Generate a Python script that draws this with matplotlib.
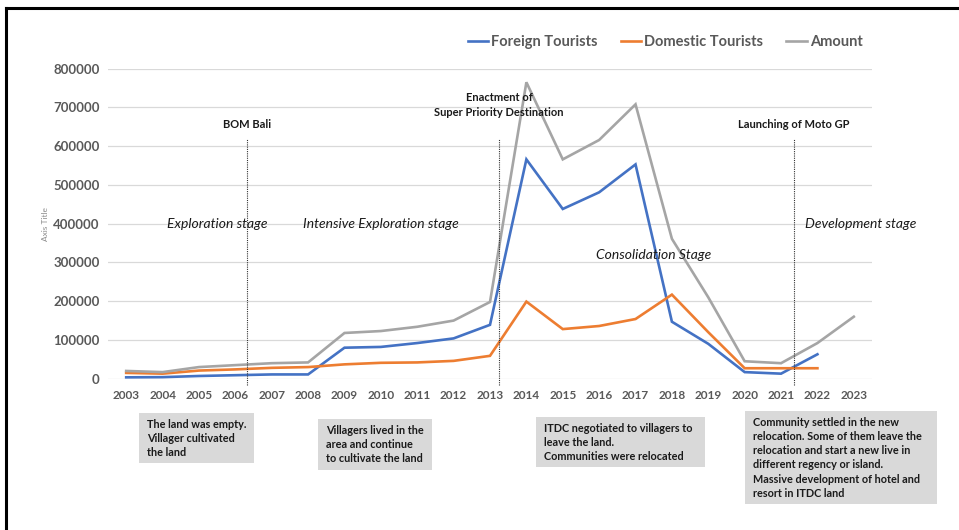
import matplotlib
matplotlib.use("Agg")
import matplotlib.pyplot as plt
from matplotlib.patches import Rectangle
from matplotlib.lines import Line2D

years = list(range(2003, 2024))
foreign = [3500, 4000, 7000, 9000, 11000, 11000, 80000, 82000, 92000, 104000, 139000,
           566000, 438000, 481000, 553000, 147000, 90000, 17000, 13000, 63000, None]
domestic = [15000, 13000, 21000, 24000, 28000, 30000, 37000, 41000, 42000, 46000, 59000,
            199000, 128000, 136000, 154000, 217000, 120000, 27000, 27000, 27000, None]
amount = [20000, 17000, 30000, 35000, 40000, 42000, 118000, 123000, 134000, 150000, 198000,
          765000, 566000, 616000, 708000, 361000, 210000, 45000, 40000, 92000, 160000]
series_names = ["Foreign Tourists", "Domestic Tourists", "Amount"]
colors = ["#4472C4", "#ED7D31", "#A5A5A5"]

events = [2006.32, 2013.25, 2021.35]
event_labels = ["BOM Bali", "Enactment of\nSuper Priority Destination", "Launching of Moto GP"]
event_label_y = [656000, 706000, 656000]

stages = ["Exploration stage", "Intensive Exploration stage", "Consolidation Stage", "Development stage"]
stage_x = [2005.5, 2010.0, 2017.5, 2023.2]
stage_y = [400000, 400000, 320000, 400000]

notes = ["The land was empty.\nVillager cultivated\nthe land",
         "Villagers lived in the\narea and continue\nto cultivate the land",
         "ITDC negotiated to villagers to\nleave the land.\nCommunities were relocated",
         "Community settled in the new\nrelocation. Some of them leave the\nrelocation and start a new live in\ndifferent regency or island.\nMassive development of hotel and\nresort in ITDC land"]
# box geometry in pixels (x0, y0_top, x1, y1_bottom)
note_boxes = [(139, 413, 254, 463), (318, 419, 432, 470), (536, 417, 705, 467), (745, 411, 937, 504)]

W, H = 959, 530
fig = plt.figure(figsize=(W / 100, H / 100), dpi=100)
ax = fig.add_axes([108 / W, 1 - 378.7 / H, (872 - 108) / W, (378.7 - 68.7) / H])

FONT = "Lato"
TXT = "#595959"

for vals, name, c in zip([foreign, domestic, amount], series_names, colors):
    xs = [y for y, v in zip(years, vals) if v is not None]
    vs = [v for v in vals if v is not None]
    ax.plot(xs, vs, color=c, lw=1.9, label=name, solid_joinstyle="miter")

ax.set_xlim(2002.5, 2023.5)
ax.set_ylim(0, 800000)
ax.set_yticks(range(0, 800001, 100000))
ax.set_yticklabels([str(v) for v in range(0, 800001, 100000)], fontsize=9.5,
                   fontweight="bold", color=TXT, family=FONT)
ax.set_xticks(years)
ax.set_xticklabels([str(y) for y in years], fontsize=8.5, fontweight="bold",
                   color=TXT, family=FONT)
ax.tick_params(length=0, axis="y", pad=6)
ax.tick_params(length=0, axis="x", pad=8)
ax.grid(axis="y", color="#d9d9d9", lw=0.9)
ax.set_axisbelow(True)
for s in ax.spines.values():
    s.set_visible(False)

for x, lab, ly in zip(events, event_labels, event_label_y):
    ax.axvline(x, ymin=-0.02, ymax=0.773, color="#333333", lw=0.8,
               linestyle=(0, (1, 1)), clip_on=False)
    ax.text(x, ly, lab, ha="center", va="center", fontsize=8, fontweight="bold",
            color="#1a1a1a", family=FONT, linespacing=1.5)

for lab, sx, sy in zip(stages, stage_x, stage_y):
    ax.text(sx, sy, lab, ha="center", va="center", fontsize=10, style="italic",
            color="#1a1a1a", family=FONT)

for txt, (x0, y0, x1, y1) in zip(notes, note_boxes):
    fig.patches.append(Rectangle((x0 / W, 1 - y1 / H), (x1 - x0) / W, (y1 - y0) / H,
                                 transform=fig.transFigure, facecolor="#d9d9d9",
                                 edgecolor="none"))
    fig.text((x0 + 8) / W, 1 - (y0 + 6) / H, txt, ha="left", va="top", fontsize=7.8,
             fontweight="bold", color="#1a1a1a", family=FONT, linespacing=1.35)

fig.text(45 / W, 1 - 224 / H, "Axis Title", rotation=90, ha="center", va="center",
         fontsize=6, color="#8c8c8c", family=FONT)

leg = ax.legend(loc="center", bbox_to_anchor=(665 / W, 1 - 42 / H),
                bbox_transform=fig.transFigure, ncol=3, frameon=False,
                handlelength=1.4, handletextpad=0.2, columnspacing=1.6,
                prop={"family": FONT, "size": 10.5, "weight": "bold"})
for t in leg.get_texts():
    t.set_color(TXT)

# outer frame (left and top edges)
fig.lines.append(Line2D([6 / W, 6 / W], [0, 1 - 8 / H], transform=fig.transFigure,
                        color="black", lw=2.2))
fig.lines.append(Line2D([6 / W, 1], [1 - 8 / H, 1 - 8 / H], transform=fig.transFigure,
                        color="black", lw=2.2))

fig.savefig("out.png", dpi=100)
